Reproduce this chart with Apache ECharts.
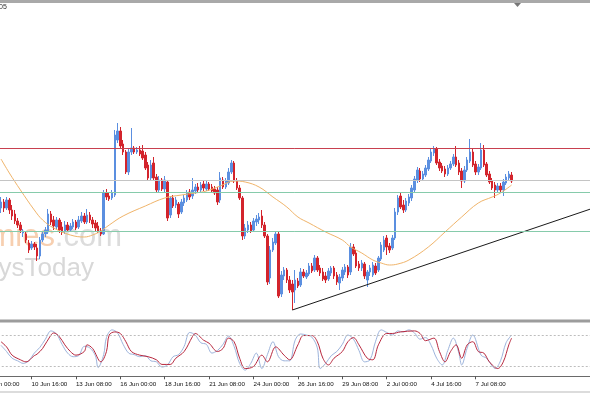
<!DOCTYPE html>
<html><head><meta charset="utf-8">
<script src="https://cdn.jsdelivr.net/npm/echarts@6/dist/echarts.min.js"></script>
<style>html,body{margin:0;padding:0;background:#fff;overflow:hidden}#c{width:590px;height:393px}</style>
</head><body><div id="c"></div>
<script>
// time-axis tick labels (one every 16 H4 bars)
const tickLabels = ["8 Jun 00:00","10 Jun 16:00","13 Jun 08:00","16 Jun 00:00","18 Jun 16:00","21 Jun 08:00","24 Jun 00:00","26 Jun 16:00","29 Jun 08:00","2 Jul 00:00","4 Jul 16:00","7 Jul 08:00"];
// candles: [open, high, low, close] in price points
const candles = [
[112,123,107,118],[118,121,108,112],[112,123,110,120],[120,122,106,110],[110,115,100,104],[106,110,96,99],[99,102,92,95],[95,98,87,90],[87,91,83,89],[86,89,77,80],
[77,80,67,70],[72,79,70,76],[76,78,70,73],[72,76,59,64],[64,83,61,80],[80,89,78,86],[86,93,83,90],[88,111,86,106],[106,109,95,98],[100,104,90,94],
[93,103,90,100],[100,102,87,90],[93,98,85,88],[88,99,86,95],[95,98,88,90],[90,97,88,94],[93,101,91,98],[98,100,90,92],[93,104,91,100],[99,108,97,104],
[104,107,96,98],[98,111,96,105],[105,108,97,100],[100,103,92,96],[97,100,89,92],[94,98,87,89],[89,92,84,86],[86,130,85,127],[127,131,120,123],[124,128,119,121],
[122,130,120,127],[125,190,123,185],[180,197,177,189],[189,193,172,174],[176,180,165,168],[168,170,146,148],[148,171,145,168],[168,192,165,172],[172,174,166,168],[168,173,166,170],
[170,174,164,166],[169,175,160,162],[165,168,150,152],[155,158,139,142],[142,160,140,155],[157,163,139,142],[143,146,128,130],[130,144,127,140],[140,142,129,131],[131,144,128,140],
[138,140,99,102],[105,124,102,122],[122,125,112,114],[115,123,112,120],[116,118,102,106],[108,121,106,118],[117,125,114,122],[120,130,118,127],[128,131,120,123],[124,142,121,130],
[129,136,126,133],[133,137,127,130],[130,138,128,135],[136,140,129,132],[131,139,129,136],[136,138,129,131],[133,136,127,129],[131,134,125,127],[130,133,115,118],[120,148,117,142],
[140,143,131,133],[133,142,131,139],[137,152,135,148],[148,160,146,157],[157,159,137,139],[139,142,130,132],[132,135,120,122],[122,124,80,84],[84,96,81,92],[90,99,87,95],
[95,98,87,89],[90,102,88,99],[98,105,94,101],[100,107,96,103],[104,110,92,95],[95,98,82,84],[84,86,35,38],[42,74,36,70],[70,82,68,78],[77,88,75,86],
[86,88,22,24],[26,49,23,45],[44,53,40,50],[50,52,37,40],[40,44,27,30],[36,40,10,28],[30,50,17,40],[39,42,32,34],[35,52,33,48],[48,51,42,44],
[43,50,41,47],[46,57,44,54],[54,57,47,49],[50,65,48,62],[62,64,48,50],[52,55,44,47],[48,52,39,41],[44,48,37,40],[41,52,39,49],[47,54,44,52],
[52,54,41,44],[45,48,35,38],[37,46,30,43],[42,53,39,50],[48,56,45,53],[53,55,42,45],[48,77,45,73],[73,76,64,66],[67,70,52,54],[56,59,49,52],
[52,60,49,57],[56,58,41,44],[40,50,33,48],[48,55,44,52],[45,58,43,55],[54,57,45,47],[50,64,48,62],[61,78,59,75],[70,84,68,80],[82,85,65,73],
[74,77,67,70],[72,85,70,82],[82,112,80,108],[108,125,105,122],[124,128,111,113],[115,120,107,110],[110,122,108,119],[117,126,114,123],[122,135,119,132],[130,144,127,141],
[140,153,137,150],[149,152,138,141],[141,149,139,146],[145,155,143,152],[151,163,149,160],[159,171,157,168],[167,174,164,171],[171,173,155,157],[158,161,149,152],[154,157,147,149],
[151,154,143,146],[146,155,144,152],[152,159,150,156],[156,166,154,163],[163,174,153,155],[157,160,145,148],[149,152,132,139],[139,154,137,150],[150,163,148,160],[159,181,157,168],
[168,171,153,155],[156,159,145,148],[148,156,145,153],[152,177,150,170],[170,175,153,155],[156,158,143,145],[146,149,136,138],[139,142,130,132],[135,138,122,130],[130,137,128,134],
[134,137,127,130],[130,141,124,138],[137,146,135,143],[142,149,140,146],[145,148,137,139]
];
// moving average: [bar, price]
const maLine = [[0,161],[3,147],[7,130],[12,110],[15,100],[19,92],[25,85],[30,83],[33,85],[36,89],[39,95],[44,104],[52,114],[59,122],[65,125],[70,127],[74,129],[79,134],[84,139],[88,138],[93,133],[98,123],[103,113],[107,103],[111,97],[117,88],[123,80],[126,73],[130,67],[134,60],[137,57],[140,55],[143,56],[147,60],[154,73],[160,88],[166,103],[172,117],[177,123],[180,127],[184,135]];
// horizontal levels and trend line
const levelValues = [171.7, 139.7, 127.3, 89];
const trendLine = [[105,10],[213,111.5]];
// stochastic %K and %D: [bar, value]
const stochK = [[0,60],[2,48],[4,35],[6,30],[8,25],[10,30],[12,45],[14,56],[16,72],[18,88],[20,82],[22,62],[24,45],[26,38],[28,40],[30,58],[32,55],[34,40],[35,17],[37,42],[38,75],[40,90],[42,84],[44,62],[46,45],[48,42],[50,38],[52,40],[54,30],[56,28],[58,18],[60,22],[62,38],[64,42],[66,58],[68,85],[70,80],[72,65],[74,62],[76,45],[78,50],[80,62],[82,78],[84,58],[86,25],[88,12],[90,25],[92,45],[94,15],[96,42],[98,67],[100,38],[102,30],[104,30],[106,70],[108,82],[110,80],[112,76],[114,55],[115,15],[117,25],[119,40],[121,48],[123,62],[125,80],[127,72],[129,50],[131,28],[133,32],[135,68],[137,90],[139,85],[141,80],[143,88],[145,86],[147,90],[149,84],[151,72],[153,75],[155,60],[157,35],[159,22],[161,50],[163,74],[165,45],[166,22],[168,55],[170,80],[173,41],[175,35],[177,20],[178,15],[180,30],[182,65],[184,80]];
const stochD = [[0,67],[2,57],[4,41],[7,32],[9,28],[12,40],[13,43],[15,54],[18,80],[19,84],[21,77],[23,61],[25,48],[27,41],[30,48],[31,61],[33,54],[36,28],[38,48],[39,80],[41,86],[43,83],[45,67],[47,48],[50,41],[53,38],[56,32],[58,23],[61,23],[63,35],[66,48],[69,77],[70,83],[73,70],[75,64],[78,48],[80,54],[82,74],[84,67],[86,35],[88,15],[91,19],[94,41],[96,28],[99,57],[102,41],[104,32],[107,61],[109,79],[112,79],[114,67],[116,35],[118,22],[120,35],[123,48],[125,67],[127,75],[129,61],[132,35],[134,32],[136,61],[139,83],[141,83],[144,86],[149,88],[151,83],[153,69],[156,74],[158,48],[160,28],[162,48],[164,61],[166,35],[168,61],[170,67],[172,48],[174,45],[176,28],[179,15],[181,28],[183,61],[184,74]];

const LEAD = 5, SLOTS = 218;
const cats = [], labelAt = [];
for (let j = 0; j < SLOTS; j++) {
  cats.push(String(j));
  labelAt.push(j % 16 === 0 && j / 16 < tickLabels.length ? tickLabels[j / 16] : '');
}
const shift = arr => arr.map(p => [p[0] + LEAD, p[1]]);
const showIdx = idx => labelAt[idx] !== '';

const chart = echarts.init(document.getElementById('c'), null, {renderer: 'canvas'});
const gridL = -14.26, gridW = 604.95;
chart.setOption({
  animation: false,
  backgroundColor: '#ffffff',
  grid: [
    {left: gridL, width: gridW, top: 3, height: 316, outerBoundsMode: 'none', containLabel: false},
    {left: gridL, width: gridW, top: 324.7, height: 51.6, outerBoundsMode: 'none', containLabel: false}
  ],
  xAxis: [
    {type: 'category', gridIndex: 0, data: cats, boundaryGap: true, show: false},
    {type: 'category', gridIndex: 1, data: cats, boundaryGap: true,
     axisLine: {show: true, lineStyle: {color: '#6a6a6a', width: 1}},
     axisTick: {show: true, alignWithLabel: true, interval: showIdx, length: 3, lineStyle: {color: '#555'}},
     axisLabel: {show: true, interval: showIdx, formatter: (v, idx) => labelAt[idx], align: 'left', margin: 5,
       hideOverlap: false, fontFamily: 'Liberation Sans', fontSize: 6.2, color: '#111'},
     splitLine: {show: false}}
  ],
  yAxis: [
    {type: 'value', gridIndex: 0, min: 1, max: 317, show: false, splitLine: {show: false}},
    {type: 'value', gridIndex: 1, min: 0, max: 100, show: false, splitLine: {show: false}}
  ],
  graphic: [
    {type: 'text', z: 0, x: 55, y: 237, style: {text: 'economies', fill: '#f7cfb0', fontFamily: 'Liberation Sans', fontSize: 31, align: 'right', verticalAlign: 'middle'}},
    {type: 'text', z: 0, x: 122, y: 237, style: {text: '.com', fill: '#dcdcdc', fontFamily: 'Liberation Sans', fontSize: 31, align: 'right', verticalAlign: 'middle'}},
    {type: 'text', z: 0, x: 94, y: 269, style: {text: 'ysToday', fill: '#d8d8d8', fontFamily: 'Liberation Sans', fontSize: 26, align: 'right', verticalAlign: 'middle'}},
    {type: 'rect', z: 100, shape: {x: 0, y: 0, width: 590, height: 3}, style: {fill: '#a9a9a9'}},
    {type: 'rect', z: 100, shape: {x: 0, y: 319.5, width: 590, height: 3}, style: {fill: '#9c9c9c'}},
    {type: 'rect', z: 100, shape: {x: 0, y: 391, width: 590, height: 2}, style: {fill: '#dcdcdc'}},
    {type: 'polygon', z: 100, shape: {points: [[514, 3], [521, 3], [517.5, 7]]}, style: {fill: '#777'}},
    {type: 'text', z: 100, x: -1, y: 4, style: {text: '05', fill: '#333', fontFamily: 'Liberation Sans', fontSize: 7, verticalAlign: 'top'}}
  ],
  series: [
    {type: 'candlestick', xAxisIndex: 0, yAxisIndex: 0, barWidth: 2,
     data: candles.map((r, i) => [i + LEAD, r[0], r[3], r[2], r[1]]),
     encode: {x: 0, y: [1, 2, 3, 4]},
     itemStyle: {color: '#5b8fe0', color0: '#d3242c', borderColor: '#5b8fe0', borderColor0: '#d3242c', borderWidth: 1},
     markLine: {silent: true, symbol: 'none', label: {show: false},
       data: [
         {yAxis: levelValues[0], lineStyle: {color: '#c8404f', width: 1, type: 'solid'}},
         {yAxis: levelValues[1], lineStyle: {color: '#c4c4c4', width: 1, type: 'solid'}},
         {yAxis: levelValues[2], lineStyle: {color: '#86cbab', width: 1, type: 'solid'}},
         {yAxis: levelValues[3], lineStyle: {color: '#86cbab', width: 1, type: 'solid'}}
       ]}},
    {type: 'line', xAxisIndex: 0, yAxisIndex: 0, data: shift(maLine), smooth: 0.4, symbol: 'none',
     lineStyle: {color: '#f0b46a', width: 1}, z: 3},
    {type: 'line', xAxisIndex: 0, yAxisIndex: 0, data: shift(trendLine), symbol: 'none',
     lineStyle: {color: '#1a1a1a', width: 1}, z: 4},
    {type: 'line', xAxisIndex: 1, yAxisIndex: 1, data: shift(stochK), smooth: 0.35, symbol: 'none',
     lineStyle: {color: '#9db4dc', width: 1}},
    {type: 'line', xAxisIndex: 1, yAxisIndex: 1, data: shift(stochD), smooth: 0.35, symbol: 'none',
     lineStyle: {color: '#b8283e', width: 1},
     markLine: {silent: true, symbol: 'none', label: {show: false},
       lineStyle: {color: '#bdbdbd', width: 1, type: [2, 2]},
       data: [{yAxis: 20}, {yAxis: 80}]}}
  ]
});
</script></body></html>
